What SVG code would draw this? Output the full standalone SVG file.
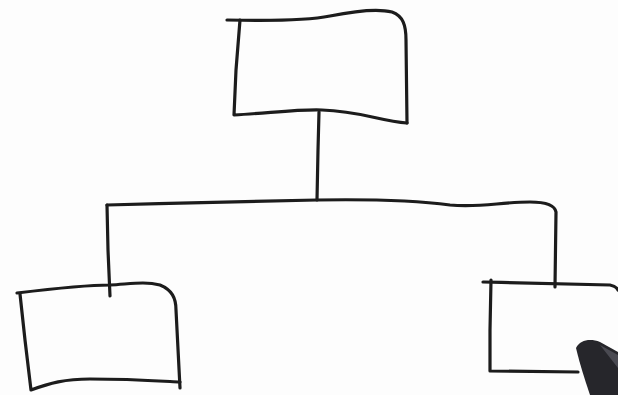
<svg xmlns="http://www.w3.org/2000/svg" width="618" height="395" viewBox="0 0 618 395">
<style>
.s{fill:none;stroke:#1c1c1c;stroke-width:3.2;stroke-linecap:round;stroke-linejoin:round}
</style>
<rect width="618" height="395" fill="#fdfdfd"/>
<g id="connectors">
<path class="s" d="M319,112 L318,150 L317,200"/>
<path class="s" d="M107,205 C180,203 260,201 317,200 C380,199 420,201 450,205 C480,208 500,202 530,202 C548,202 555,206 556,212 L555,287"/>
<path class="s" d="M107,205 L108,250 L110,296"/>
</g>
<g id="node-top">
<path class="s" d="M227,20 C270,21 310,20 330,16 C360,10 380,9 392,12 C403,16 406,25 406,40 L407,123"/>
<path class="s" d="M240,20 L236,70 L234,115 C270,113 300,109 322,110 C360,111 380,121 407,123"/>
</g>
<g id="node-left">
<path class="s" d="M17,293 C50,289 90,285 110,285 C130,284 145,281 160,285 C172,290 176,298 176,310 L180,388"/>
<path class="s" d="M20,294 L25,340 L31,390 C50,383 65,379 90,379 C130,379 160,381 180,382"/>
</g>
<g id="node-right">
<path class="s" d="M483,282 C530,283 580,284 610,285 C615,286 617,288 618,290"/>
<path class="s" d="M491,280 L490,330 L490,371 L578,372"/>
</g>
<g id="marker">
<path d="M576,348 C580,340 590,338 600,342 L618,352 L618,395 L590,395 C585,380 580,365 576,348 Z" fill="#26262b"/>
<path d="M600,345 L618,355 L618,368 Z" fill="#4a4a52"/>
</g>
</svg>
